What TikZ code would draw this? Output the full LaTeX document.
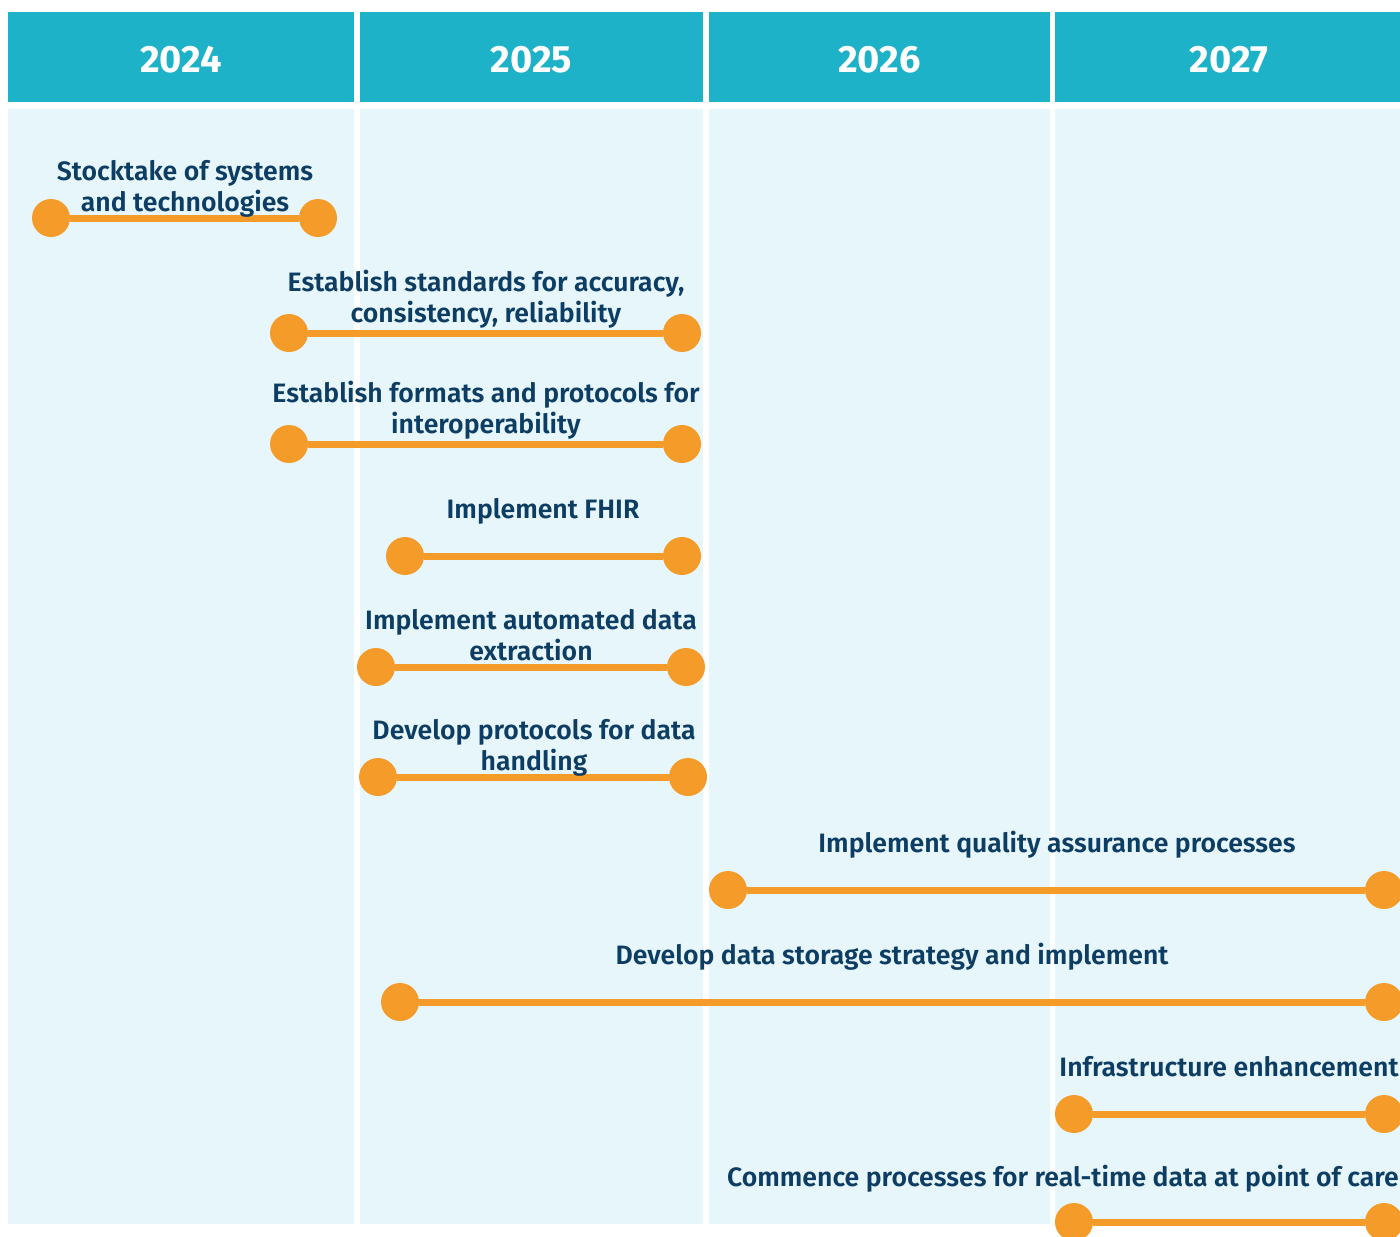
\documentclass[tikz,border=0pt]{standalone}
\usepackage{fontspec}
\setmainfont{Fira Sans}[BoldFont={Fira Sans SemiBold}]
\newfontfamily\yearfont{Fira Sans}
\usepackage{xcolor}
\usetikzlibrary{positioning,calc}
\definecolor{headcyan}{HTML}{1EB2C8}
\definecolor{bodycyan}{HTML}{E6F6FA}
\definecolor{barorange}{HTML}{F59B2A}
\definecolor{textnavy}{HTML}{0D3D63}
\tikzstyle{yearlabel} = [text=white, font=\yearfont\bfseries\fontsize{19}{23}\selectfont, inner sep=0pt]
\tikzstyle{milestone} = [circle, fill=barorange, minimum size=19pt, inner sep=0pt]
\tikzstyle{bar} = [draw=barorange, line width=3.5pt]
\tikzstyle{tasklabel} = [text=textnavy, align=center, anchor=base, inner sep=0pt,
    font=\bfseries\fontsize{13.3}{15.5}\selectfont]

\begin{document}
\begin{tikzpicture}[x=0.5pt, y=-0.5pt]
    \useasboundingbox (0,0) rectangle (1400,1236);

    % year columns
    \foreach \yr/\xl/\xr in {2024/8/354, 2025/360/703, 2026/709/1050, 2027/1055/1403} {
        \fill [headcyan] (\xl,12) rectangle (\xr,102);
        \fill [bodycyan] (\xl,109) rectangle (\xr,1224);
        \node (head\yr) [yearlabel] at ({(\xl+\xr)/2},60) {\yr};
    }

    % tasks: start, end, row, label x, baseline of last label line
    \foreach \n/\xa/\xb/\yy/\lx/\ly/\txt in {
        1/51/318/218/185/211/{Stocktake of systems\\and technologies},
        2/289/682/333/486/322/{Establish standards for accuracy,\\consistency, reliability},
        3/289/682/444/486/433/{Establish formats and protocols for\\interoperability},
        4/405/682/556/543/518/{Implement FHIR},
        5/376/686/667/531/660/{Implement automated data\\extraction},
        6/378/688/777/534/770/{Develop protocols for data\\handling},
        7/728/1384/890/1057/852/{Implement quality assurance processes},
        8/400/1384/1002/892/964/{Develop data storage strategy and implement},
        9/1074/1384/1114/1229/1076/{Infrastructure enhancement},
        10/1074/1384/1222/1063/1186/{Commence processes for real-time data at point of care}} {
        \node (s\n) [milestone] at (\xa,\yy) {};
        \node (e\n) [milestone] at (\xb,\yy) {};
        \draw [bar] (s\n) -- (e\n);
        \node (lbl\n) [tasklabel] at (\lx,\ly) {\txt};
    }
\end{tikzpicture}
\end{document}
